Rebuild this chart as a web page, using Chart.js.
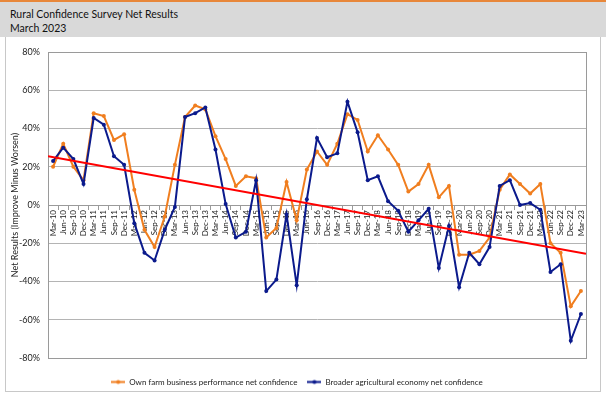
<!DOCTYPE html>
<html lang="en">
<head>
<meta charset="UTF-8">
<title>Rural Confidence Survey Net Results</title>
<script src="https://cdn.jsdelivr.net/npm/chart.js"></script>
<style>
    body {
        margin: 0;
        background: #fff;
        font-family: Lato, "Liberation Sans", sans-serif;
    }
    #frame {
        position: relative;
        width: 606px;
        height: 397px;
        overflow: hidden;
        background: #fff;
    }
    #header {
        position: absolute;
        left: 0;
        top: 0;
        width: 606px;
        height: 37px;
        background: #d9d9d9;
        border-top: 2px solid #e8873a;
        box-sizing: border-box;
        padding: 5px 0 0 10px;
        font-size: 10.5px;
        line-height: 14px;
        color: #111;
    }
    #outline {
        position: absolute;
        left: 5px;
        top: 37px;
        width: 596px;
        height: 355px;
        border: 1px solid #c8c8c8;
        border-top: none;
        box-sizing: border-box;
    }
    #chartBox {
        position: absolute;
        left: 0;
        top: 37px;
    }
</style>
</head>
<body>
<div id="frame">
    <div id="header">Rural Confidence Survey Net Results<br>March 2023</div>
    <div id="outline"></div>
    <canvas id="chartBox" width="606" height="360"></canvas>
</div>
<script>
    // quarterly survey points, Mar-10 .. Mar-23
    const quarters = [
        'Mar-10', 'Jun-10', 'Sep-10', 'Dec-10', 'Mar-11', 'Jun-11', 'Sep-11', 'Dec-11',
        'Mar-12', 'Jun-12', 'Sep-12', 'Dec-12', 'Mar-13', 'Jun-13', 'Sep-13', 'Dec-13',
        'Mar-14', 'Jun-14', 'Sep-14', 'Dec-14', 'Mar-15', 'Jun-15', 'Sep-15', 'Dec-15',
        'Mar-16', 'Jun-16', 'Sep-16', 'Dec-16', 'Mar-17', 'Jun-17', 'Sep-17', 'Dec-17',
        'Mar-18', 'Jun-18', 'Sep-18', 'Dec-18', 'Mar-19', 'Jun-19', 'Sep-19', 'Dec-19',
        'Mar-20', 'Jun-20', 'Sep-20', 'Dec-20', 'Mar-21', 'Jun-21', 'Sep-21', 'Dec-21',
        'Mar-22', 'Jun-22', 'Sep-22', 'Dec-22', 'Mar-23'
    ];

    const ownFarm = [
        20, 32, 20, 13, 48, 46.5, 34, 37,
        8, -13, -22, -6, 21, 46, 52, 50,
        36, 24, 10, 15, 14, -17, -12, 12,
        -8, 18.5, 28, 21, 32, 47.5, 44.5, 28,
        36.5, 29, 21, 7, 11, 21, 4, 10,
        -26, -26, -24, -17, 8, 16, 11, 6,
        11, -20, -25, -53, -45
    ];

    const broaderEconomy = [
        23, 30, 24, 11, 45.5, 42, 25.5, 21,
        -9.5, -25, -29, -13, -1, 46, 48, 51,
        29, 0.5, -17, -14, 13, -45, -39, -5,
        -42, 3, 35, 25, 27, 54, 38, 13,
        15, 2, -3, -14, -8, -2, -33, -11,
        -43, -25, -31, -22, 10, 13, 0, 1,
        -2.5, -35, -31, -71, -57
    ];

    // red linear trend line, value at left and right edge of the plot
    const trendEnds = [25.5, -25.5];

    const yTickValues = [-80, -60, -40, -20, 0, 20, 40, 60, 80];

    const orange = '#f07e1f';
    const navy = '#0b1a8c';

    function legendIcon(color) {
        const c = document.createElement('canvas');
        c.width = 14;
        c.height = 7;
        const g = c.getContext('2d');
        g.strokeStyle = color;
        g.lineWidth = 2;
        g.beginPath();
        g.moveTo(0, 3.5);
        g.lineTo(14, 3.5);
        g.stroke();
        g.fillStyle = color;
        g.beginPath();
        g.arc(7, 3.5, 2, 0, Math.PI * 2);
        g.fill();
        return c;
    }
    const icons = [legendIcon(orange), legendIcon(navy)];

    const plotFrame = {
        id: 'plotFrame',
        beforeDatasetsDraw(chart) {
            const {ctx, chartArea} = chart;
            ctx.save();
            ctx.strokeStyle = '#9a9a9a';
            ctx.lineWidth = 1;
            ctx.strokeRect(Math.round(chartArea.left) + 0.5, Math.round(chartArea.top) + 0.5,
                Math.round(chartArea.width), Math.round(chartArea.height));
            ctx.restore();
        }
    };

    new Chart(document.getElementById('chartBox'), {
        type: 'line',
        data: {
            labels: quarters,
            datasets: [
                {
                    label: 'Own farm business performance net confidence',
                    data: ownFarm,
                    borderColor: orange,
                    backgroundColor: orange,
                    borderWidth: 2,
                    pointRadius: 2,
                    pointBorderWidth: 0,
                    tension: 0,
                    order: 2
                },
                {
                    label: 'Broader agricultural economy net confidence',
                    data: broaderEconomy,
                    borderColor: navy,
                    backgroundColor: navy,
                    borderWidth: 2,
                    pointRadius: 2,
                    pointBorderWidth: 0,
                    tension: 0,
                    order: 1
                },
                {
                    label: 'Trend',
                    data: [
                        {x: -0.5, y: trendEnds[0]},
                        {x: quarters.length - 0.5, y: trendEnds[1]}
                    ],
                    xAxisID: 'xTrend',
                    borderColor: '#ff0000',
                    borderWidth: 2,
                    pointRadius: 0,
                    order: 0
                }
            ]
        },
        options: {
            responsive: false,
            animation: false,
            layout: {
                padding: {left: 8, right: 20, top: 15, bottom: 1}
            },
            scales: {
                x: {
                    position: {y: 0},
                    offset: true,
                    grid: {drawOnChartArea: false, drawTicks: true, tickLength: 4, color: '#9a9a9a', offset: true},
                    border: {color: '#9a9a9a'},
                    ticks: {
                        autoSkip: false,
                        maxRotation: 90,
                        minRotation: 90,
                        padding: 1,
                        color: '#222',
                        font: {family: 'Lato', size: 8}
                    }
                },
                xTrend: {
                    type: 'linear',
                    position: 'bottom',
                    min: -0.5,
                    max: quarters.length - 0.5,
                    grid: {display: false},
                    border: {display: false},
                    ticks: {display: false},
                    afterFit: s => { s.height = 10; }
                },
                y: {
                    min: -80,
                    max: 80,
                    afterBuildTicks: s => { s.ticks = yTickValues.map(v => ({value: v})); },
                    afterFit: s => { s.width = 40; },
                    grid: {color: '#b4b4b4', drawTicks: false},
                    border: {color: '#9a9a9a'},
                    ticks: {
                        padding: 8,
                        color: '#222',
                        font: {family: 'Lato', size: 9},
                        callback: v => v + '%'
                    },
                    title: {
                        display: true,
                        text: 'Net Results (Improve Minus Worsen)',
                        color: '#222',
                        font: {family: 'Lato', size: 9},
                        padding: {top: 2, bottom: 0}
                    }
                }
            },
            plugins: {
                legend: {
                    position: 'bottom',
                    labels: {
                        usePointStyle: true,
                        pointStyleWidth: 14,
                        padding: 10,
                        color: '#222',
                        font: {family: 'Lato', size: 8},
                        filter: item => item.datasetIndex < 2,
                        sort: (a, b) => a.datasetIndex - b.datasetIndex,
                        generateLabels: chart => {
                            const items = Chart.defaults.plugins.legend.labels.generateLabels(chart);
                            items.forEach(item => {
                                if (item.datasetIndex < 2) item.pointStyle = icons[item.datasetIndex];
                            });
                            return items;
                        }
                    }
                },
                tooltip: {enabled: false}
            }
        },
        plugins: [plotFrame]
    });
</script>
</body>
</html>
